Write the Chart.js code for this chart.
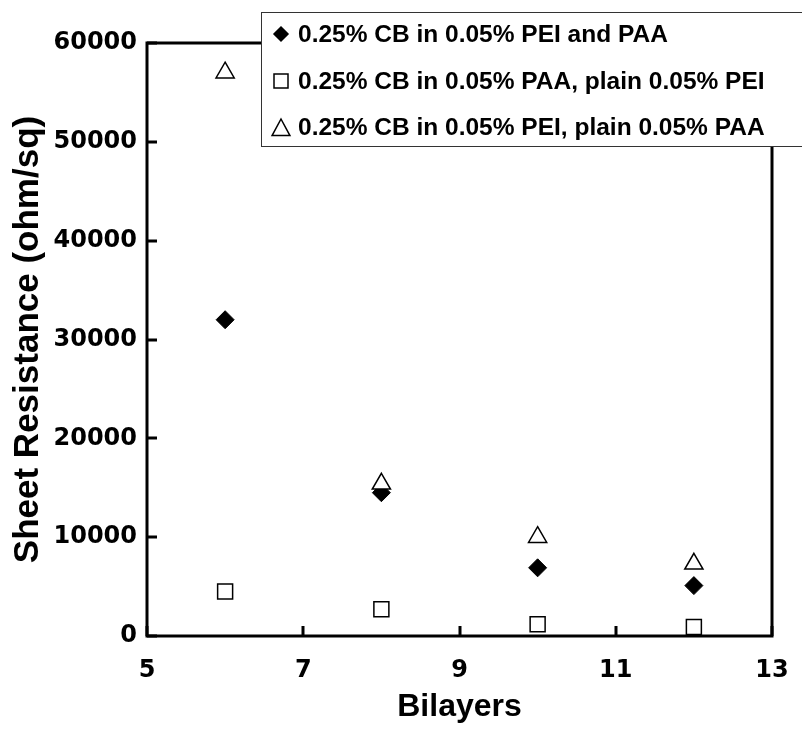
<!DOCTYPE html>
<html>
<head>
<meta charset="utf-8">
<script src="https://cdn.jsdelivr.net/npm/chart.js@4/dist/chart.umd.min.js"></script>
<style>
  html, body { margin: 0; padding: 0; background: #ffffff; }
  #wrap { width: 802px; height: 740px; }
</style>
</head>
<body>
<div id="wrap"><canvas id="chart" width="802" height="740"></canvas></div>
<script>
// Sheet resistance versus number of bilayers
const bilayers = [6, 8, 10, 12];
const cbInBoth = [32000, 14500, 6900, 5100];      // CB in both PEI and PAA
const cbInPAA = [4500, 2700, 1200, 900];          // CB in PAA only
const cbInPEI = [57000, 15400, 10000, 7300];      // CB in PEI only

const seriesLabels = [
  '0.25% CB in 0.05% PEI and PAA',
  '0.25% CB in 0.05% PAA, plain 0.05% PEI',
  '0.25% CB in 0.05% PEI, plain 0.05% PAA'
];

const xTickValues = [5, 7, 9, 11, 13];
const yTickValues = [0, 10000, 20000, 30000, 40000, 50000, 60000];

const xTitle = 'Bilayers';
const yTitle = 'Sheet Resistance (ohm/sq)';

const toPoints = (ys) => bilayers.map((x, i) => ({ x: x, y: ys[i] }));

// Box around the plot with short inward tick marks
const framePlugin = {
  id: 'frame',
  beforeDatasetsDraw(chart) {
    const { ctx, chartArea: a } = chart;
    const xs = chart.scales.x, ys = chart.scales.y;
    ctx.save();
    ctx.strokeStyle = '#000';
    ctx.lineWidth = 3;
    ctx.lineCap = 'square';
    ctx.strokeRect(a.left, a.top, a.right - a.left, a.bottom - a.top);
    ctx.lineCap = 'butt';
    ctx.beginPath();
    ys.ticks.forEach((t, i) => {
      const py = Math.round(ys.getPixelForTick(i));
      ctx.moveTo(a.left, py);
      ctx.lineTo(a.left + 10, py);
    });
    xs.ticks.forEach((t, i) => {
      const px = Math.round(xs.getPixelForTick(i));
      ctx.moveTo(px, a.bottom);
      ctx.lineTo(px, a.bottom - 10);
    });
    ctx.stroke();
    ctx.restore();
  }
};

function drawMarker(ctx, style, r, fill, x, y) {
  ctx.save();
  ctx.strokeStyle = '#000';
  ctx.lineWidth = 1.5;
  ctx.fillStyle = fill;
  ctx.beginPath();
  if (style === 'rectRot') {
    ctx.moveTo(x, y - r); ctx.lineTo(x + r, y); ctx.lineTo(x, y + r); ctx.lineTo(x - r, y);
  } else if (style === 'rect') {
    ctx.rect(x - r, y - r, 2 * r, 2 * r);
  } else {
    ctx.moveTo(x, y - r); ctx.lineTo(x + r * 1.05, y + r * 0.95); ctx.lineTo(x - r * 1.05, y + r * 0.95);
  }
  ctx.closePath();
  ctx.fill();
  ctx.stroke();
  ctx.restore();
}

// Boxed legend in the upper right, overlapping the plot frame
const legendBoxPlugin = {
  id: 'legendBox',
  afterDraw(chart) {
    const { ctx } = chart;
    const left = 261.5, top = 12.5, bottom = 146.5, right = 820;
    ctx.save();
    ctx.fillStyle = '#fff';
    ctx.fillRect(left, top, right - left, bottom - top);
    ctx.strokeStyle = '#333';
    ctx.lineWidth = 1;
    ctx.strokeRect(left, top, right - left, bottom - top);
    const rows = [34, 81, 127.5];
    const markerSize = [7, 7, 8.5];
    chart.data.datasets.forEach((ds, i) => {
      const y = rows[i];
      drawMarker(ctx, ds.pointStyle, markerSize[i], ds.backgroundColor, 281, y);
      ctx.fillStyle = '#000';
      ctx.font = 'bold 24.5px "Liberation Sans", Arial, sans-serif';
      ctx.textAlign = 'left';
      ctx.textBaseline = 'middle';
      ctx.fillText(ds.label, 298, y + 1);
    });
    ctx.restore();
  }
};

const tickFont = { family: '"DejaVu Sans", sans-serif', size: 24, weight: 'bold' };

new Chart(document.getElementById('chart'), {
  type: 'scatter',
  data: {
    datasets: [
      {
        label: seriesLabels[0], data: toPoints(cbInBoth), order: 1,
        pointStyle: 'rectRot', pointRadius: 9, pointHoverRadius: 9,
        backgroundColor: '#000', borderColor: '#000', borderWidth: 1, showLine: false
      },
      {
        label: seriesLabels[1], data: toPoints(cbInPAA), order: 2,
        pointStyle: 'rect', pointRadius: 10.6, pointHoverRadius: 10.6,
        backgroundColor: '#fff', borderColor: '#000', borderWidth: 1.5, showLine: false
      },
      {
        label: seriesLabels[2], data: toPoints(cbInPEI), order: 0,
        pointStyle: 'triangle', pointRadius: 10.5, pointHoverRadius: 10.5,
        backgroundColor: '#fff', borderColor: '#000', borderWidth: 1.5, showLine: false
      }
    ]
  },
  options: {
    responsive: false,
    animation: false,
    devicePixelRatio: 1,
    layout: { padding: { top: 43, right: 30, left: 0, bottom: 0 } },
    plugins: {
      legend: { display: false },
      tooltip: { enabled: false }
    },
    scales: {
      x: {
        type: 'linear', min: 5, max: 13,
        afterBuildTicks(scale) { scale.ticks = xTickValues.map(v => ({ value: v })); },
        afterFit(scale) { scale.height = 104; scale.paddingLeft = 0; scale.paddingRight = 0; },
        grid: { display: false, drawTicks: false },
        border: { display: false },
        ticks: { font: tickFont, color: '#000', padding: 20, maxRotation: 0 },
        title: {
          display: true, text: xTitle, color: '#000',
          font: { family: '"Liberation Sans", Arial, sans-serif', size: 32, weight: 'bold' },
          padding: { top: 0, bottom: 14 }
        }
      },
      y: {
        type: 'linear', min: 0, max: 60000,
        afterBuildTicks(scale) { scale.ticks = yTickValues.map(v => ({ value: v })); },
        afterFit(scale) { scale.width = 147; scale.paddingTop = 0; scale.paddingBottom = 0; },
        grid: { display: false, drawTicks: false },
        border: { display: false },
        ticks: { font: tickFont, color: '#000', padding: 10, callback: (v) => String(v) },
        title: {
          display: true, text: yTitle, color: '#000',
          font: { family: '"Liberation Sans", Arial, sans-serif', size: 35, weight: 'bold' },
          padding: { top: 7, bottom: 0 }
        }
      }
    }
  },
  plugins: [framePlugin, legendBoxPlugin]
});
</script>
</body>
</html>
